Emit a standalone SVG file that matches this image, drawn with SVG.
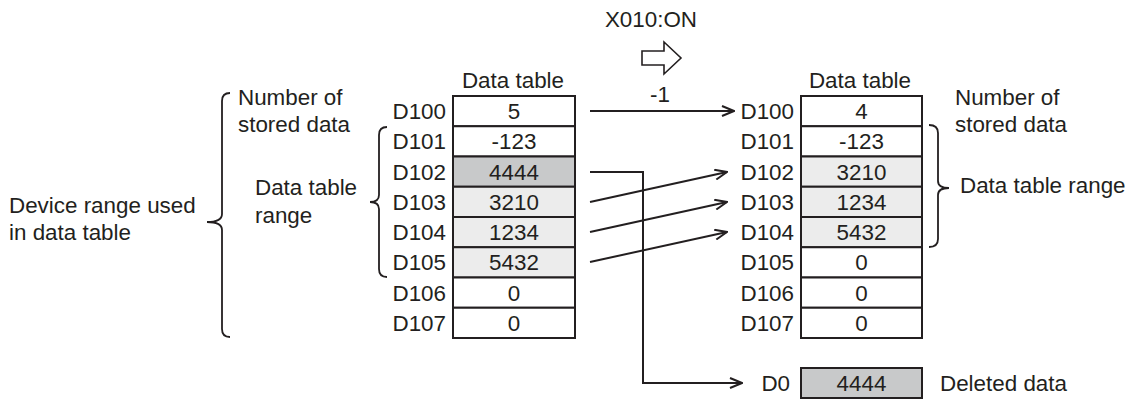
<svg xmlns="http://www.w3.org/2000/svg" width="1138" height="399" viewBox="0 0 1138 399">
<defs>
<style>
text{font-family:"Liberation Sans",Arial,sans-serif;font-size:22.4px;fill:#231f20}
.m{text-anchor:middle}
.e{text-anchor:end}
.c{stroke:#231f20;stroke-width:2;}
.w{fill:#ffffff}
.l{fill:#ececec}
.d{fill:#c8c9ca}
.ln{fill:none;stroke:#231f20;stroke-width:2}
.br{fill:none;stroke:#231f20;stroke-width:1.8}
</style>
<marker id="ah" viewBox="0 0 14 12" refX="13" refY="6" markerWidth="14" markerHeight="12" markerUnits="userSpaceOnUse" orient="auto">
<path d="M1,1 L13,6 L1,11" fill="none" stroke="#231f20" stroke-width="2"/>
</marker>
</defs>
<rect width="1138" height="399" fill="#ffffff"/>

<g id="trigger">
<text x="651" y="27" class="m">X010:ON</text>
<polygon points="642,51 664,51 664,42 681,58 664,74 664,65 642,65" fill="#ffffff" stroke="#231f20" stroke-width="1.6"/>
</g>

<g id="left-table">
<text x="513" y="88" class="m">Data table</text>
<rect x="453" y="96" width="122" height="30.25" class="c w"/>
<rect x="453" y="126.25" width="122" height="30.25" class="c w"/>
<rect x="453" y="156.5" width="122" height="30.25" class="c d"/>
<rect x="453" y="186.75" width="122" height="30.25" class="c l"/>
<rect x="453" y="217" width="122" height="30.25" class="c l"/>
<rect x="453" y="247.25" width="122" height="30.25" class="c l"/>
<rect x="453" y="277.5" width="122" height="30.25" class="c w"/>
<rect x="453" y="307.75" width="122" height="30.25" class="c w"/>
<text x="446" y="119" class="e">D100</text>
<text x="446" y="149.3" class="e">D101</text>
<text x="446" y="179.5" class="e">D102</text>
<text x="446" y="209.8" class="e">D103</text>
<text x="446" y="240" class="e">D104</text>
<text x="446" y="270.3" class="e">D105</text>
<text x="446" y="300.5" class="e">D106</text>
<text x="446" y="330.8" class="e">D107</text>
<text x="514" y="119" class="m">5</text>
<text x="514" y="149.3" class="m">-123</text>
<text x="514" y="179.5" class="m">4444</text>
<text x="514" y="209.8" class="m">3210</text>
<text x="514" y="240" class="m">1234</text>
<text x="514" y="270.3" class="m">5432</text>
<text x="514" y="300.5" class="m">0</text>
<text x="514" y="330.8" class="m">0</text>
</g>

<g id="right-table">
<text x="860" y="88" class="m">Data table</text>
<rect x="801" y="96" width="121" height="30.25" class="c w"/>
<rect x="801" y="126.25" width="121" height="30.25" class="c w"/>
<rect x="801" y="156.5" width="121" height="30.25" class="c l"/>
<rect x="801" y="186.75" width="121" height="30.25" class="c l"/>
<rect x="801" y="217" width="121" height="30.25" class="c l"/>
<rect x="801" y="247.25" width="121" height="30.25" class="c w"/>
<rect x="801" y="277.5" width="121" height="30.25" class="c w"/>
<rect x="801" y="307.75" width="121" height="30.25" class="c w"/>
<text x="794" y="119" class="e">D100</text>
<text x="794" y="149.3" class="e">D101</text>
<text x="794" y="179.5" class="e">D102</text>
<text x="794" y="209.8" class="e">D103</text>
<text x="794" y="240" class="e">D104</text>
<text x="794" y="270.3" class="e">D105</text>
<text x="794" y="300.5" class="e">D106</text>
<text x="794" y="330.8" class="e">D107</text>
<text x="861.5" y="119" class="m">4</text>
<text x="861.5" y="149.3" class="m">-123</text>
<text x="861.5" y="179.5" class="m">3210</text>
<text x="861.5" y="209.8" class="m">1234</text>
<text x="861.5" y="240" class="m">5432</text>
<text x="861.5" y="270.3" class="m">0</text>
<text x="861.5" y="300.5" class="m">0</text>
<text x="861.5" y="330.8" class="m">0</text>
</g>

<g id="deleted">
<rect x="801" y="368" width="121" height="30" class="c d"/>
<text x="790" y="391" class="e">D0</text>
<text x="861.5" y="391" class="m">4444</text>
<text x="940" y="391">Deleted data</text>
</g>

<g id="left-labels">
<text x="238" y="105">Number of</text>
<text x="238" y="132">stored data</text>
<text x="255" y="195">Data table</text>
<text x="255" y="223">range</text>
<text x="9" y="213">Device range used</text>
<text x="9" y="240">in data table</text>
<path class="br" d="M230,93 Q222,93 222,101 L222,214 Q222,222 207,222 Q222,222 222,230 L222,329 Q222,337 230,337"/>
<path class="br" d="M387,127 Q379,127 379,135 L379,195 Q379,202 370,202 Q379,202 379,209 L379,269 Q379,277 387,277"/>
</g>

<g id="right-labels">
<text x="955" y="105">Number of</text>
<text x="955" y="132">stored data</text>
<text x="960" y="193">Data table range</text>
<path class="br" d="M929,125 Q938,125 938,133 L938,181 Q938,188 949,188 Q938,188 938,195 L938,239 Q938,247 929,247"/>
</g>

<g id="connectors">
<line x1="590" y1="111" x2="734" y2="111" class="ln" marker-end="url(#ah)"/>
<text x="660" y="102" class="m">-1</text>
<polyline points="590,172 643,172 643,383 742,383" class="ln" marker-end="url(#ah)"/>
<line x1="590" y1="202" x2="727" y2="172" class="ln" marker-end="url(#ah)"/>
<line x1="590" y1="232" x2="727" y2="202" class="ln" marker-end="url(#ah)"/>
<line x1="590" y1="262" x2="727" y2="232" class="ln" marker-end="url(#ah)"/>
</g>
</svg>
